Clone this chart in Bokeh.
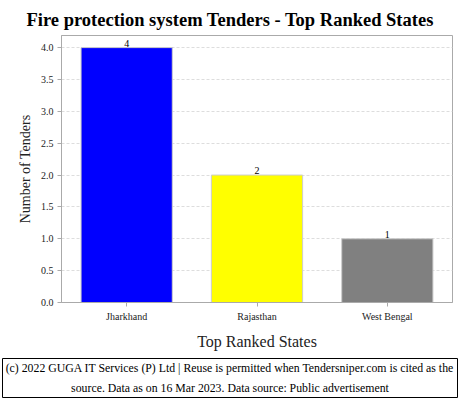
from bokeh.plotting import figure
from bokeh.models import ColumnDataSource, LabelSet, Range1d, FixedTicker, CustomJSTickFormatter
from bokeh.layouts import column
from bokeh.embed import file_html
from bokeh.resources import INLINE
from bokeh.core.properties import value

states = ["Jharkhand", "Rajasthan", "West Bengal"]
tenders = [4, 2, 1]
colors = ["#0000ff", "#ffff00", "#808080"]
yticks = [0.0, 0.5, 1.0, 1.5, 2.0, 2.5, 3.0, 3.5, 4.0]

title_text = "Fire protection system Tenders - Top Ranked States"
footer_lines = [
    "(c) 2022 GUGA IT Services (P) Ltd | Reuse is permitted when Tendersniper.com is cited as the",
    "source. Data as on 16 Mar 2023. Data source: Public advertisement",
]

SERIF = "Liberation Serif"
YMAX = 4.19

src = ColumnDataSource(dict(states=states, tenders=tenders, colors=colors,
                            labels=[str(t) for t in tenders]))

p = figure(x_range=states, y_range=Range1d(0, YMAX), width=460, height=358,
           output_backend="svg", toolbar_location=None,
           min_border_left=61, min_border_right=8, min_border_top=35, min_border_bottom=56)
p.frame_align = False
p.title.text = title_text
p.title.align = "left"
p.title.offset = -35
p.title.text_font = SERIF
p.title.text_font_size = "18.5px"
p.title.text_font_style = "bold"
p.title.text_color = "#000000"
p.title.standoff = 12

p.vbar(x="states", top="tenders", width=0.7, fill_color="colors",
       line_color="#cccccc", line_width=1, source=src)

labels = LabelSet(x="states", y="tenders", text="labels", source=src,
                  text_align="center", text_baseline="bottom", y_offset=1,
                  text_font=value(SERIF), text_font_size="10px", text_color="#000000")
p.add_layout(labels)

p.x_range.range_padding = 0
p.outline_line_color = "#aaaaaa"
p.outline_line_width = 1

p.xgrid.grid_line_color = None
p.ygrid.grid_line_color = "#dddddd"
p.ygrid.grid_line_dash = "3 2"
p.ygrid.ticker = FixedTicker(ticks=yticks)

p.yaxis.ticker = FixedTicker(ticks=yticks)
p.yaxis.formatter = CustomJSTickFormatter(code="return tick.toFixed(1);")
for ax in (p.xaxis, p.yaxis):
    ax.axis_line_color = "#aaaaaa"
    ax.major_tick_line_color = "#aaaaaa"
    ax.minor_tick_line_color = None
    ax.major_tick_in = 0
    ax.major_tick_out = 4
    ax.major_label_standoff = 4
    ax.major_label_text_font = SERIF
    ax.major_label_text_font_size = "10px"
    ax.major_label_text_color = "#222222"
    ax.axis_label_text_font = SERIF
    ax.axis_label_text_font_style = "normal"
    ax.axis_label_text_color = "#222222"
p.yaxis.axis_label = "Number of Tenders"
p.yaxis.axis_label_text_font_size = "14px"
p.yaxis.axis_label_standoff = 5
p.xaxis.axis_label = "Top Ranked States"
p.xaxis.axis_label_text_font_size = "16px"
p.xaxis.axis_label_standoff = 8

# footer caption box
f = figure(width=460, height=42, x_range=Range1d(0, 1), y_range=Range1d(0, 1),
           output_backend="svg", toolbar_location=None,
           min_border_left=2, min_border_right=3, min_border_top=0, min_border_bottom=3)
f.frame_align = False
f.axis.visible = False
f.grid.grid_line_color = None
f.outline_line_color = "#000000"
f.outline_line_width = 1
f.text(x=[0.5, 0.5], y=[0.75, 0.24], text=footer_lines, text_align="center",
       text_baseline="middle", text_font=value(SERIF), text_font_size="11.8px",
       text_color="#000000")

layout = column(p, f, spacing=0)
open("out.html", "w").write(file_html(layout, INLINE))
